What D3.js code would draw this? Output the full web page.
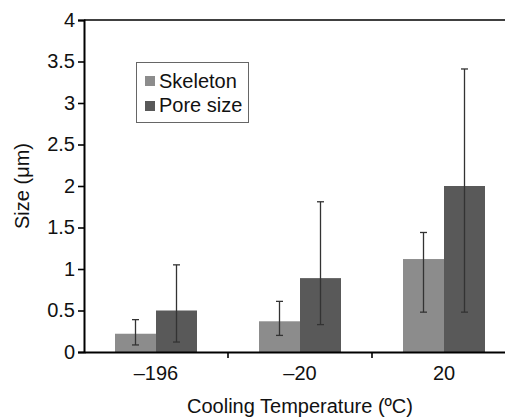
<!DOCTYPE html>
<html><head><meta charset="utf-8">
<script src="https://cdn.jsdelivr.net/npm/d3@7"></script>
<style>html,body{margin:0;padding:0;background:#fff;}svg{display:block;font-family:"Liberation Sans",Arial,sans-serif;}</style>
</head><body>
<script>
const categories = ["\u2013196", "\u201320", "20"];
const seriesNames = ["Skeleton", "Pore size"];
const skeletonValues = [0.22, 0.37, 1.12];
const skeletonErrLow = [0.085, 0.20, 0.48];
const skeletonErrHigh = [0.39, 0.61, 1.44];
const poreValues = [0.50, 0.89, 2.00];
const poreErrLow = [0.12, 0.33, 0.48];
const poreErrHigh = [1.05, 1.81, 3.41];
const yTicks = [0, 0.5, 1, 1.5, 2, 2.5, 3, 3.5, 4];
const colors = ["#8c8c8c", "#595959"];

(function () {
const W = 505, H = 417;
const svg = d3.select("body").append("svg").attr("width", W).attr("height", H);

const mL = 84, mR = 516, mT = 20, mB = 352;
const x0 = d3.scaleBand().domain(categories).range([mL, mR]).padding(0);
const x1 = d3.scaleBand().domain(seriesNames).range([31, 113]).padding(0);
const y = d3.scaleLinear().domain([0, 4]).range([mB, mT]);

const data = categories.map((c, i) => ({
  cat: c,
  vals: [
    {s: seriesNames[0], v: skeletonValues[i], lo: skeletonErrLow[i], hi: skeletonErrHigh[i]},
    {s: seriesNames[1], v: poreValues[i], lo: poreErrLow[i], hi: poreErrHigh[i]}
  ]
}));

const g = svg.selectAll("g.grp").data(data).enter().append("g")
  .attr("transform", d => `translate(${x0(d.cat)},0)`);
g.selectAll("rect").data(d => d.vals).enter().append("rect")
  .attr("x", d => x1(d.s)).attr("width", x1.bandwidth())
  .attr("y", d => y(d.v)).attr("height", d => y(0) - y(d.v))
  .attr("fill", (d, i) => colors[i]);

// error bars
const eb = g.selectAll("g.eb").data(d => d.vals).enter().append("g")
  .attr("stroke", "#333").attr("stroke-width", 1.3);
const cx = d => x1(d.s) + x1.bandwidth() / 2;
eb.append("line").attr("x1", cx).attr("x2", cx).attr("y1", d => y(d.lo)).attr("y2", d => y(d.hi));
eb.append("line").attr("x1", d => cx(d) - 3.5).attr("x2", d => cx(d) + 3.5).attr("y1", d => y(d.hi)).attr("y2", d => y(d.hi));
eb.append("line").attr("x1", d => cx(d) - 3.5).attr("x2", d => cx(d) + 3.5).attr("y1", d => y(d.lo)).attr("y2", d => y(d.lo));

// top frame line
svg.append("line").attr("x1", mL).attr("x2", mR).attr("y1", mT).attr("y2", mT)
  .attr("stroke", "#000").attr("stroke-width", 1.6);

// y axis
const ya = svg.append("g").attr("transform", `translate(${mL},0)`)
  .call(d3.axisLeft(y).tickValues(yTicks).tickSize(6).tickPadding(3).tickFormat(d3.format("")));
ya.select(".domain").attr("stroke-width", 2);
ya.selectAll(".tick line").attr("stroke-width", 1.6);
ya.selectAll("text").attr("font-size", 20).attr("fill", "#111").attr("font-family", "Liberation Sans, Arial, sans-serif");

// x axis
const xa = svg.append("g").attr("transform", `translate(0,${mB})`)
  .call(d3.axisBottom(x0).tickSize(0).tickPadding(14));
xa.select(".domain").attr("stroke-width", 2);
xa.selectAll("text").attr("font-size", 20).attr("fill", "#111").attr("font-family", "Liberation Sans, Arial, sans-serif");
// category separators
svg.append("g").selectAll("line").data(categories.slice(1)).enter().append("line")
  .attr("x1", d => x0(d)).attr("x2", d => x0(d)).attr("y1", mB).attr("y2", mB + 6)
  .attr("stroke", "#000").attr("stroke-width", 1.6);

// axis titles
svg.append("text").attr("x", 300).attr("y", 413).attr("text-anchor", "middle")
  .attr("font-size", 20).attr("fill", "#111").text("Cooling Temperature (\u00baC)");
svg.append("text").attr("transform", `translate(29,${(mT + mB) / 2}) rotate(-90)`)
  .attr("text-anchor", "middle").attr("font-size", 20).attr("fill", "#111").text("Size (\u03bcm)");

// legend
const lg = svg.append("g");
lg.append("rect").attr("x", 136.5).attr("y", 62.5).attr("width", 112).attr("height", 60)
  .attr("fill", "#fff").attr("stroke", "#666").attr("stroke-width", 1);
seriesNames.forEach((s, i) => {
  lg.append("rect").attr("x", 145).attr("y", 76 + i * 25).attr("width", 10).attr("height", 10).attr("fill", colors[i]);
  lg.append("text").attr("x", 159).attr("y", 87.5 + i * 24).attr("font-size", 20).attr("fill", "#111").text(s);
});
})();
</script>
</body></html>
